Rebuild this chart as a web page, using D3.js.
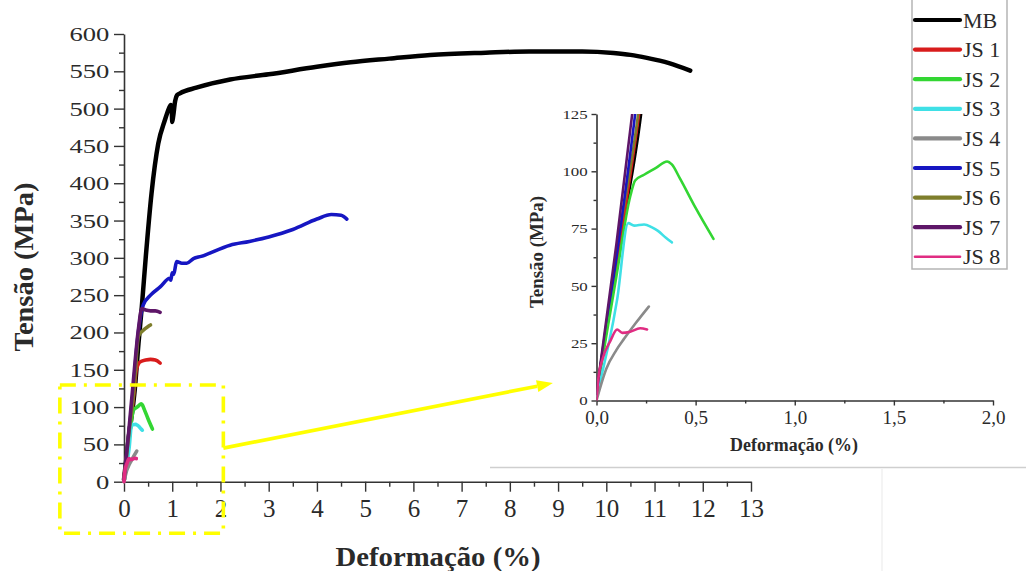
<!DOCTYPE html>
<html><head><meta charset="utf-8">
<script src="https://cdn.jsdelivr.net/npm/d3@7"></script>
<style>
html,body{margin:0;padding:0;background:#fff;}
svg{display:block;}
text{font-family:"Liberation Serif","Times New Roman",serif;fill:#2a2a2a;}
</style></head>
<body>
<svg id="c" width="1026" height="571"></svg>
<script>
// ---------- DATA (strain %, stress MPa) ----------
const seriesNames = ["MB","JS 1","JS 2","JS 3","JS 4","JS 5","JS 6","JS 7","JS 8"];
const seriesColors = ["#000000","#d81c1c","#33d633","#3fe0e6","#8a8a8a","#1616c2","#7e7e2c","#5e1668","#e02c82"];

const MB  = [[0,3],[0.1,60],[0.225,125],[0.3,185],[0.37,235],[0.45,300],[0.57,386],[0.71,453],[0.85,485],[0.93,500],[0.97,505],[0.99,500],[1.0,482],[1.02,490],[1.06,510],[1.1,518],[1.16,520.5],[1.5,528],[2.2,539],[3,546],[4,556],[4.7,562],[5.5,567],[6.35,572],[7.5,575],[8.4,576.5],[9.5,576.5],[10.15,574.5],[10.5,572],[10.84,568],[11.3,561],[11.74,551]];
const JS1 = [[0,3],[0.1,58],[0.215,125],[0.25,148],[0.3,158],[0.35,161],[0.45,163],[0.55,164],[0.65,163],[0.75,159]];
const JS2 = [[0,3],[0.1,54],[0.17,89],[0.195,96],[0.24,98.5],[0.3,101.5],[0.356,104.3],[0.38,103],[0.42,97],[0.5,84],[0.59,70.5]];
const JS3 = [[0,2],[0.104,44],[0.16,77.4],[0.19,76.3],[0.24,76.8],[0.28,75.5],[0.31,74],[0.35,71],[0.38,69]];
const JS4 = [[0,0],[0.05,14],[0.1,22],[0.14,27],[0.2,34],[0.264,41]];
const JS5 = [[0,3],[0.1,62],[0.195,125],[0.28,190],[0.4,237],[0.55,250],[0.75,261],[0.95,272.6],[0.97,270],[1.0,280],[1.03,278],[1.09,295],[1.2,292.7],[1.3,292.7],[1.44,299],[1.6,302],[2.2,317],[2.6,322],[3,328],[3.5,338],[4,352],[4.3,358],[4.5,357],[4.62,352]];
const JS6 = [[0,3],[0.1,64],[0.21,125],[0.3,195],[0.4,203],[0.5,208],[0.55,210]];
const JS7 = [[0,3],[0.1,68],[0.18,125],[0.3,205],[0.37,232],[0.45,230],[0.55,229],[0.65,229],[0.75,227]];
const JS8 = [[0,0],[0.01,10],[0.03,18],[0.07,26],[0.104,31],[0.13,29.5],[0.17,30],[0.22,31.5],[0.255,31]];

const seriesData = [MB,JS1,JS2,JS3,JS4,JS5,JS6,JS7,JS8];
const drawOrder = [0,5,1,2,3,6,4,7,8];

// tick labels
const mainXTicks = d3.range(0,14,1);
const mainXMinor = d3.range(0.5,13,1);
const mainYTicks = d3.range(0,601,50);
const mainYMinor = d3.range(25,600,50);
const insetXTicks = [0,0.5,1.0,1.5,2.0];
const insetXLabels = ["0,0","0,5","1,0","1,5","2,0"];
const insetXMinor = [0.25,0.75,1.25,1.75];
const insetYTicks = [0,25,50,75,100,125];
const insetYMinor = [12.5,37.5,62.5,87.5,112.5];

// annotation (zoom box in main-chart units, arrow tip in inset units)
const zoomBox = {x0:-1.33, x1:2.06, y0:-69, y1:129.6};
const arrowStart = [2.06, 45];
const arrowTipInset = [-0.22, 7.6];

// ---------- DRAW ----------
const svg = d3.select("#c");
const x = d3.scaleLinear([0,13],[124,751]);
const y = d3.scaleLinear([0,600],[481.7,34]);
const xi = d3.scaleLinear([0,2],[596.5,993]);
const yi = d3.scaleLinear([0,125],[400.5,114]);

function styleAxis(g){
  g.selectAll("path.domain").attr("stroke","#333").attr("stroke-width",1.6);
  g.selectAll(".tick line").attr("stroke","#333").attr("stroke-width",1.4);
}

// main minor ticks
svg.append("g").attr("transform",`translate(0,${y(0)})`)
  .call(d3.axisBottom(x).tickValues(mainXMinor).tickSize(5).tickSizeOuter(0).tickFormat(""))
  .call(styleAxis).call(g=>g.select(".domain").remove());
svg.append("g").attr("transform",`translate(${x(0)},0)`)
  .call(d3.axisLeft(y).tickValues(mainYMinor).tickSize(5).tickSizeOuter(0).tickFormat(""))
  .call(styleAxis).call(g=>g.select(".domain").remove());

// main x axis
const gx = svg.append("g").attr("transform",`translate(0,${y(0)})`)
  .call(d3.axisBottom(x).tickValues(mainXTicks).tickSize(10).tickSizeOuter(0).tickPadding(8).tickFormat(d3.format("d")))
  .call(styleAxis);
gx.selectAll("text").attr("font-size",25).attr("font-family","Liberation Serif").attr("fill","#333").attr("dy","0.71em");

// main y axis
const gy = svg.append("g").attr("transform",`translate(${x(0)},0)`)
  .call(d3.axisLeft(y).tickValues(mainYTicks).tickSize(10).tickSizeOuter(0).tickFormat(d3.format("d")))
  .call(styleAxis);
gy.selectAll("text").attr("font-size",19).attr("font-family","Liberation Serif").attr("fill","#333")
  .attr("x",-10.5).attr("dy","0.34em").attr("transform","scale(1.4,1)");

// main titles
svg.append("text").attr("x",438).attr("y",566).attr("text-anchor","middle")
  .attr("font-size",27).attr("font-weight","bold").attr("fill","#222")
  .attr("textLength",205).attr("lengthAdjust","spacingAndGlyphs").text("Deformação (%)");
svg.append("text").attr("transform","translate(33,267) rotate(-90)").attr("text-anchor","middle")
  .attr("font-size",27).attr("font-weight","bold").attr("fill","#222")
  .attr("textLength",169).attr("lengthAdjust","spacingAndGlyphs").text("Tensão (MPa)");

// main lines
const lineMain = d3.line().x(d=>x(d[0])).y(d=>y(d[1])).curve(d3.curveMonotoneX);
drawOrder.forEach(i=>{
  svg.append("path").datum(seriesData[i]).attr("d",lineMain).attr("fill","none")
    .attr("stroke",seriesColors[i]).attr("stroke-width", i===0?4.5:3.6)
    .attr("stroke-linejoin","round").attr("stroke-linecap","round");
});

// ---------- INSET ----------
svg.append("defs").append("clipPath").attr("id","clipI").append("rect")
  .attr("x",xi(0)).attr("y",yi(125)).attr("width",xi(2)-xi(0)).attr("height",yi(0)-yi(125));

svg.append("g").attr("transform",`translate(0,${yi(0)})`)
  .call(d3.axisBottom(xi).tickValues(insetXMinor).tickSize(3).tickSizeOuter(0).tickFormat(""))
  .call(styleAxis).call(g=>g.select(".domain").remove());
svg.append("g").attr("transform",`translate(${xi(0)},0)`)
  .call(d3.axisLeft(yi).tickValues(insetYMinor).tickSize(3).tickSizeOuter(0).tickFormat(""))
  .call(styleAxis).call(g=>g.select(".domain").remove());

const gxi = svg.append("g").attr("transform",`translate(0,${yi(0)})`)
  .call(d3.axisBottom(xi).tickValues(insetXTicks).tickSize(5).tickSizeOuter(0).tickPadding(5)
    .tickFormat((d,k)=>insetXLabels[k]))
  .call(styleAxis);
gxi.selectAll("text").attr("font-size",19).attr("font-family","Liberation Serif").attr("fill","#333").attr("dy","0.71em");

const gyi = svg.append("g").attr("transform",`translate(${xi(0)},0)`)
  .call(d3.axisLeft(yi).tickValues(insetYTicks).tickSize(5).tickSizeOuter(0).tickFormat(d3.format("d")))
  .call(styleAxis);
gyi.selectAll("text").attr("font-size",12.5).attr("font-family","Liberation Serif").attr("fill","#333")
  .attr("x",-6.5).attr("dy","0.34em").attr("transform","scale(1.35,1)");

svg.append("text").attr("x",794).attr("y",451).attr("text-anchor","middle")
  .attr("font-size",18).attr("font-weight","bold").attr("fill","#222")
  .attr("textLength",128).attr("lengthAdjust","spacingAndGlyphs").text("Deformação (%)");
svg.append("text").attr("transform","translate(543,252) rotate(-90)").attr("text-anchor","middle")
  .attr("font-size",18).attr("font-weight","bold").attr("fill","#222")
  .attr("textLength",112).attr("lengthAdjust","spacingAndGlyphs").text("Tensão (MPa)");

const lineInset = d3.line().x(d=>xi(d[0])).y(d=>yi(d[1])).curve(d3.curveMonotoneX);
const gIn = svg.append("g").attr("clip-path","url(#clipI)");
[0,1,6,5,2,3,4,7,8].forEach(i=>{
  gIn.append("path").datum(seriesData[i]).attr("d",lineInset).attr("fill","none")
    .attr("stroke",seriesColors[i]).attr("stroke-width",2.6)
    .attr("stroke-linejoin","round").attr("stroke-linecap","round");
});

// ---------- ANNOTATION ----------
svg.append("rect").attr("x",x(zoomBox.x0)).attr("y",y(zoomBox.y1))
  .attr("width",x(zoomBox.x1)-x(zoomBox.x0)).attr("height",y(zoomBox.y0)-y(zoomBox.y1))
  .attr("fill","none").attr("stroke","#ffff00").attr("stroke-width",3.6)
  .attr("stroke-dasharray","16,8,3,8");

const ax0 = x(arrowStart[0]), ay0 = y(arrowStart[1]);
const ax1 = xi(arrowTipInset[0]), ay1 = yi(arrowTipInset[1]);
const ang = Math.atan2(ay1-ay0, ax1-ax0);
const hl = 16, hw = 6;
const bx = ax1 - hl*Math.cos(ang), by = ay1 - hl*Math.sin(ang);
svg.append("line").attr("x1",ax0).attr("y1",ay0).attr("x2",bx).attr("y2",by)
  .attr("stroke","#ffff00").attr("stroke-width",3.6);
svg.append("path").attr("d",`M${ax1},${ay1}L${bx - hw*Math.sin(ang)},${by + hw*Math.cos(ang)}L${bx + hw*Math.sin(ang)},${by - hw*Math.cos(ang)}Z`)
  .attr("fill","#ffff00");

// separators (page artefacts)
svg.append("line").attr("x1",490).attr("x2",1026).attr("y1",467.5).attr("y2",467.5)
  .attr("stroke","#cfcfcf").attr("stroke-width",1.5);
svg.append("line").attr("x1",882).attr("x2",882).attr("y1",469).attr("y2",571)
  .attr("stroke","#f0f0f0").attr("stroke-width",1.5);

// ---------- LEGEND ----------
svg.append("rect").attr("x",912).attr("y",-5).attr("width",95).attr("height",274)
  .attr("fill","#fff").attr("stroke","#b5b5b5").attr("stroke-width",1.5);
const leg = svg.append("g");
seriesNames.forEach((n,i)=>{
  const yy = 20 + i*29.6;
  leg.append("line").attr("x1",915).attr("x2",960).attr("y1",yy).attr("y2",yy)
    .attr("stroke",seriesColors[i]).attr("stroke-width", i===8?2.6:4.2).attr("stroke-linecap","round");
  leg.append("text").attr("x",963).attr("y",yy+7.5).attr("font-size",22).attr("fill","#2a2a2a").text(n);
});
</script>
</body></html>
